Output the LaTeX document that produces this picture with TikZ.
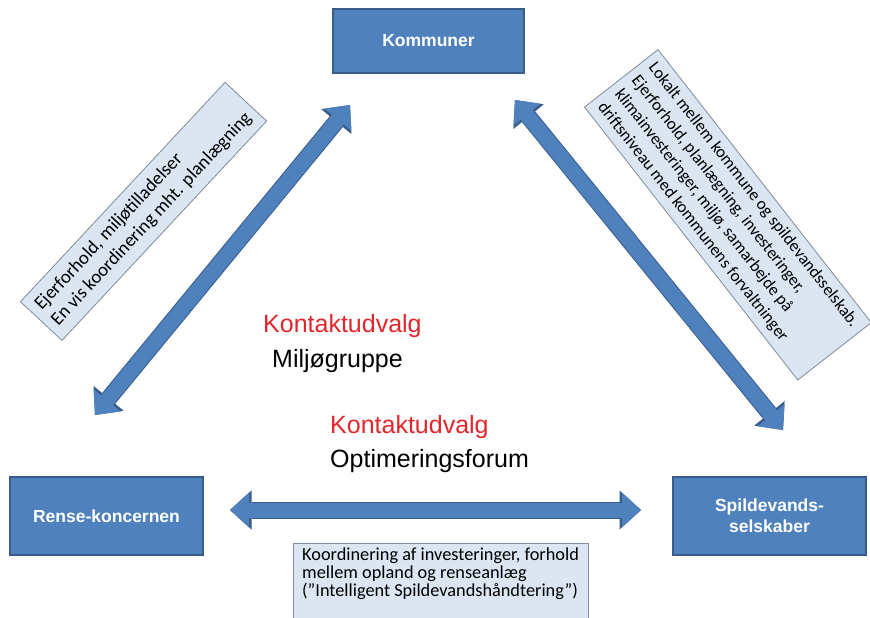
\documentclass[tikz,border=0pt]{standalone}
\usepackage{fontspec}
\setmainfont{Carlito}
\newfontfamily\arialfont{Liberation Sans}
\usetikzlibrary{arrows.meta}
\definecolor{boxblue}{HTML}{4F81BD}
\definecolor{boxedge}{HTML}{385D8A}
\definecolor{notefill}{HTML}{DCE6F2}
\definecolor{noteedge}{HTML}{7F8C99}
\definecolor{kred}{HTML}{E2262B}
\tikzset{
  entity/.style={draw=boxedge, line width=1.5pt, fill=boxblue, text=white,
    font=\arialfont\bfseries\fontsize{17.5}{21}\selectfont, align=center, inner sep=0pt},
  notebox/.style={draw=noteedge, line width=0.8pt, fill=notefill, align=left,
    inner xsep=6pt},
  centerlabel/.style={font=\arialfont\fontsize{25}{28}\selectfont, anchor=base west, inner sep=0pt},
  tipin/.style={arrows={Triangle[length=19pt,width=35pt,line width=0pt]-Triangle[length=19pt,width=35pt,line width=0pt]}},
  tipout/.style={arrows={Triangle[length=21.5pt,width=39pt,line width=0pt]-Triangle[length=21.5pt,width=39pt,line width=0pt]}},
  blockarrow/.style={draw=boxblue, line width=15pt, tipin,
    preaction={draw=boxedge, line width=17pt, tipout}}
}
\begin{document}
\begin{tikzpicture}[x=1pt,y=-1pt]
\useasboundingbox[fill=white] (0,0) rectangle (870,618);

% entity boxes
\node[entity, minimum width=191pt, minimum height=64pt] (kom) at (428.5,41) {Kommuner};
\node[entity, minimum width=193pt, minimum height=78pt] (rense) at (106.5,516) {Rense-koncernen};
\node[entity, minimum width=193pt, minimum height=78pt] (spild) at (769.5,516) {Spildevands-\\selskaber};

% arrow end points
\coordinate (lA) at (95,415);
\coordinate (lB) at (350,105);
\coordinate (rA) at (515,100);
\coordinate (rB) at (783,430);
\coordinate (hA) at (230,510);
\coordinate (hB) at (641,510);

\draw[blockarrow] (lA) -- (lB);
\draw[blockarrow] (rA) -- (rB);
\draw[blockarrow] (hA) -- (hB);

% rotated notes
\node[notebox, rotate=47, anchor=south west, minimum width=300pt, inner ysep=9pt,
  font=\fontsize{18.8}{22.5}\selectfont] (noteL) at (62,341)
  {Ejerforhold, miljøtilladelser\\En vis koordinering mht. planlægning};
\node[notebox, rotate=-52, anchor=south west, minimum width=342pt, inner ysep=7pt,
  inner xsep=8pt, font=\fontsize{17}{21.5}\selectfont] (noteR) at (584,107)
  {Lokalt mellem kommune og spildevandsselskab.\\Ejerforhold, planlægning, investeringer,\\klimainvesteringer, miljø, samarbejde på\\driftsniveau med kommunens forvaltninger};

% bottom note
\node[notebox, anchor=north west, minimum width=295pt, minimum height=80pt] (kbox) at (293,543) {};
\node[anchor=north west, align=left, inner sep=0pt, font=\fontsize{18.3}{18}\selectfont] (ktext) at (302,548)
  {Koordinering af investeringer, forhold\\mellem opland og renseanlæg\\(”Intelligent Spildevandshåndtering”)};

% center labels
\node[centerlabel, text=kred] (kv1) at (263,332) {Kontaktudvalg};
\node[centerlabel] (mg) at (272,367) {Miljøgruppe};
\node[centerlabel, text=kred] (kv2) at (330,433) {Kontaktudvalg};
\node[centerlabel] (of) at (330,467) {Optimeringsforum};
\end{tikzpicture}
\end{document}
